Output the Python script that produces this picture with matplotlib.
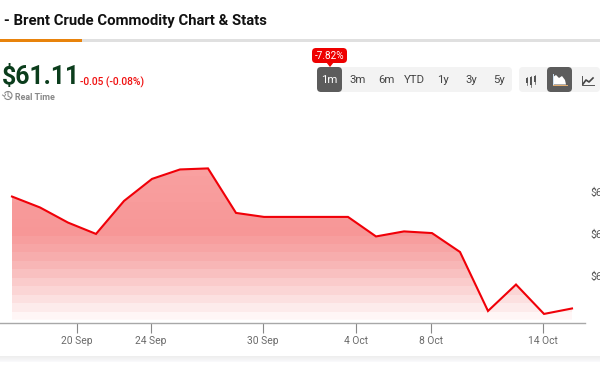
import numpy as np
import matplotlib
matplotlib.use("Agg")
import matplotlib.pyplot as plt
from matplotlib.colors import LinearSegmentedColormap
from matplotlib.patches import FancyBboxPatch, Rectangle, Polygon, Arc

plt.rcParams['font.family'] = ['Roboto', 'DejaVu Sans']

# closing price per trading day
prices = [66.76, 66.24, 65.52, 64.98, 66.55, 67.60, 68.05, 68.10, 65.98, 65.79, 65.79,
          65.79, 65.79, 64.86, 65.10, 65.02, 64.12, 61.31, 62.57, 61.17, 61.43]
tick_labels = ['20 Sep', '24 Sep', '30 Sep', '4 Oct', '8 Oct', '14 Oct']
tick_pos = [2.32, 4.96, 8.96, 12.29, 14.96, 18.96]
y_ticks = [63, 65, 67]
y_labels = ['$63', '$65', '$67']
ranges = ['1m', '3m', '6m', 'YTD', '1y', '3y', '5y']
range_x = [329.5, 357.5, 386, 414, 443, 471, 499]

fig = plt.figure(figsize=(6, 3.74), dpi=100)

# page chrome in pixel coordinates
bg = fig.add_axes([0, 0, 1, 1])
bg.set_xlim(0, 600)
bg.set_ylim(374, 0)
bg.axis('off')

bg.text(4, 21, '- Brent Crude Commodity Chart & Stats', fontsize=10.7, fontweight='bold',
        color='#111111', va='center')
bg.add_patch(Rectangle((0, 39), 600, 3, color='#e0e0e0', lw=0))
bg.add_patch(Rectangle((0, 39), 82, 3, color='#e8830c', lw=0))
bg.text(2, 76.5, '$61.11', fontsize=17.8, fontweight='bold', color='#0b3d1c', va='center')
bg.text(80, 82, '-0.05 (-0.08%)', fontsize=7.4, color='#f01010', va='center', fontweight='medium')
bg.text(15, 97, 'Real Time', fontsize=6.4, color='#888888', va='center', fontweight='bold')

# clock icon
bg.add_patch(Arc((8, 95.5), 8, 8, theta1=-150, theta2=150, color='#888888', lw=0.8))
bg.plot([8, 8, 10.5], [92.5, 96, 97.5], color='#888888', lw=0.7)
bg.plot([2.5, 4.5, 5.5], [95, 96.5, 94.5], color='#888888', lw=0.7)

# range buttons
bg.add_patch(FancyBboxPatch((320, 67), 192, 25, boxstyle='round,pad=0,rounding_size=4',
                            fc='#f3f3f3', ec='none'))
bg.add_patch(FancyBboxPatch((519, 67), 81, 25, boxstyle='round,pad=0,rounding_size=4',
                            fc='#f3f3f3', ec='none'))
bg.add_patch(FancyBboxPatch((317, 67), 25, 25, boxstyle='round,pad=0,rounding_size=4',
                            fc='#5c5c5c', ec='none'))
bg.add_patch(FancyBboxPatch((547, 67), 25, 25, boxstyle='round,pad=0,rounding_size=4',
                            fc='#5c5c5c', ec='none'))
for lab, x in zip(ranges, range_x):
    bg.text(x, 79.5, lab, fontsize=8.2, ha='center', va='center',
            color='white' if lab == '1m' else '#444444')

# badge above 1m
bg.add_patch(FancyBboxPatch((312, 48), 35, 15, boxstyle='round,pad=0,rounding_size=4',
                            fc='#ee0000', ec='none'))
bg.add_patch(Polygon([(326, 62), (334, 62), (330, 67)], fc='#ee0000', ec='none'))
bg.text(329.5, 55.5, '-7.82%', fontsize=7.2, color='white', ha='center', va='center')

# chart type icons
for x, top, bot in [(527, 78, 83), (531, 77, 85), (535, 76, 82)]:
    bg.plot([x, x], [top - 1.5, bot + 1.5], color='#555555', lw=0.5)
    bg.add_patch(Rectangle((x - 1, top), 2, bot - top, fc='#555555', ec='none'))
bg.add_patch(Polygon([(553, 84.5), (553, 77), (556, 75), (559, 78), (562, 76), (565, 80), (566, 84.5)],
                     fc='white', ec='none'))
bg.plot([552.5, 552.5], [74, 85], color='#cfe4f5', lw=0.7)
bg.plot([552.5, 567], [85, 85], color='#e8b070', lw=0.7)
bg.plot([582, 582, 594], [76, 85, 85], color='#555555', lw=0.7)
bg.plot([583, 586, 589, 593], [84, 80, 82, 78], color='#444444', lw=1.2)

# card bottom shadow
shadow = np.linspace(0, 1, 6).reshape(-1, 1)
bg.imshow(shadow, extent=(0, 600, 362, 356), aspect='auto',
          cmap=LinearSegmentedColormap.from_list('sh', ['#eeeeee', '#f9f9fb']), zorder=1)
bg.set_xlim(0, 600)
bg.set_ylim(374, 0)

# chart axes, x is trading day index, spans x 0-585 px and y 140-322.5 px
ax = fig.add_axes([0, (374 - 322.5) / 374, 585 / 600, 182.5 / 374])
ax.patch.set_alpha(0)
xs = np.arange(len(prices))

# banded gradient under the line
cmap = LinearSegmentedColormap.from_list('fade', [(0, '#fff6f6'), (0.19, '#fbd3d3'), (0.39, '#f8b0b0'),
                                                  (0.59, '#f79797'), (1, '#f9a0a0')])
grad = np.linspace(0, 1, 18).reshape(-1, 1)
ymin = 60.9
ymax = max(prices)
im = ax.imshow(grad, extent=(0, len(prices) - 1, ymin, ymax), origin='lower', aspect='auto', cmap=cmap, zorder=1)
clip = Polygon(np.column_stack([np.r_[xs, xs[-1], xs[0]], np.r_[prices, ymin, ymin]]),
               transform=ax.transData, fc='none', ec='none')
ax.add_patch(clip)
im.set_clip_path(clip)
ax.plot(xs, prices, color='#f00008', lw=1.5, zorder=3, solid_joinstyle='miter')
ax.set_xlim(-12 / 28, 573 / 28)
ax.set_ylim(63 - (322.5 - 275.5) / 21, 63 + (275.5 - 140) / 21)

for s in ['top', 'left', 'right']:
    ax.spines[s].set_visible(False)
ax.spines['bottom'].set_color('#a8a8a8')
ax.spines['bottom'].set_linewidth(1)
ax.set_xticks(tick_pos)
ax.set_xticklabels(tick_labels, fontsize=7.4, color='#6a6a6a')
ax.tick_params(axis='x', length=7, width=0.8, color='#888888', pad=2.5)
ax.yaxis.tick_right()
ax.set_yticks(y_ticks)
ax.set_yticklabels(y_labels, fontsize=7.6, color='#555555')
ax.tick_params(axis='y', length=0, pad=4)

fig.savefig('out.png', dpi=100)
